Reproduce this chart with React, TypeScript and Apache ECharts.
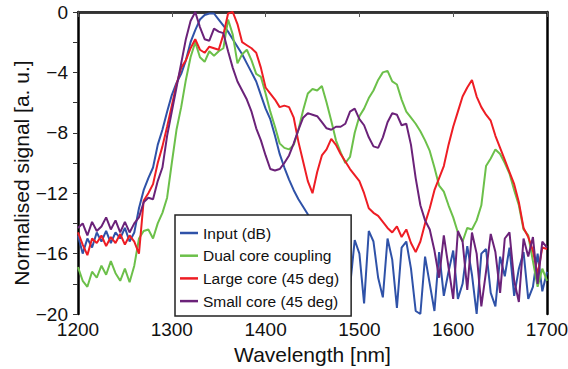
import React, { useEffect, useRef } from "react";
import * as echarts from "echarts";

const wavelengths = [
  1200, 1205, 1210, 1215, 1220, 1225, 1230, 1235, 1240, 1245,
  1250, 1255, 1260, 1265, 1270, 1275, 1280, 1285, 1290, 1295,
  1300, 1305, 1310, 1315, 1320, 1325, 1330, 1335, 1340, 1345,
  1350, 1355, 1360, 1365, 1370, 1375, 1380, 1385, 1390, 1395,
  1400, 1405, 1410, 1415, 1420, 1425, 1430, 1435, 1440, 1445,
  1450, 1455, 1460, 1465, 1470, 1475, 1480, 1485, 1490, 1495,
  1500, 1505, 1510, 1515, 1520, 1525, 1530, 1535, 1540, 1545,
  1550, 1555, 1560, 1565, 1570, 1575, 1580, 1585, 1590, 1595,
  1600, 1605, 1610, 1615, 1620, 1625, 1630, 1635, 1640, 1645,
  1650, 1655, 1660, 1665, 1670, 1675, 1680, 1685, 1690, 1695,
  1700,
];

const inputDb = [
  -14.8, -16.0, -15.0, -15.6, -14.6, -15.2, -14.5, -15.3, -14.6, -15.0,
  -14.3, -15.2, -14.6, -13.0, -11.8, -11.0, -10.3, -8.8, -7.8, -6.6,
  -5.5, -4.7, -4.1, -3.2, -2.0, -1.2, -0.5, -0.2, -0.1, -0.1,
  -0.5, -0.9, -1.3, -1.8, -2.3, -2.8, -3.4, -4.0, -4.6, -5.5,
  -6.4, -7.1, -8.2, -9.4, -10.3, -11.1, -11.8, -12.4, -12.9, -13.4,
  -14.0, -14.8, -15.6, -15.0, -16.2, -17.8, -15.4, -14.9, -18.2, -15.1,
  -16.0, -19.3, -14.5, -15.2, -17.6, -18.9, -15.0, -16.4, -19.6, -15.6,
  -15.2, -17.0, -19.8, -20.0, -16.2, -18.0, -19.8, -15.9, -18.8, -17.2,
  -15.8, -19.0, -18.0, -15.5, -17.4, -20.0, -16.0, -15.7, -18.6, -19.5,
  -16.2, -17.5, -15.6, -18.8, -17.0, -15.9, -19.0, -18.2, -16.0, -18.5,
  -17.2,
];

const dualCore = [
  -16.9, -17.8, -18.2, -17.2, -17.6, -16.8, -17.4, -16.5, -17.3, -17.8,
  -17.0, -17.9, -16.8, -15.0, -14.5, -14.4, -15.0, -14.0, -13.3, -12.3,
  -10.0, -7.8, -6.3, -4.5, -3.0, -2.0, -3.0, -3.3, -2.6, -2.9,
  -2.6, -2.4, -0.5, -1.5, -3.4, -2.8, -2.5, -3.2, -4.1, -4.3,
  -5.4, -6.6, -7.6, -8.7, -9.0, -9.1, -8.8, -7.8, -6.5, -5.4,
  -5.1, -5.2, -4.9, -6.0, -7.2, -8.5, -9.3, -10.0, -9.6, -8.0,
  -6.9, -6.4, -5.7, -5.2, -4.5, -4.0, -3.9, -4.6, -4.8, -5.8,
  -6.6, -7.0, -7.4, -7.9, -8.5, -9.2, -10.3, -11.5, -11.9, -12.8,
  -13.6, -14.6, -15.2, -14.3, -14.4, -13.8, -12.8, -10.2, -9.7, -9.1,
  -9.4, -10.0, -10.7, -11.8, -12.8, -14.4, -14.8, -16.5, -18.2, -17.0,
  -17.8,
];

const largeCore = [
  -14.6, -15.4, -16.1, -15.0, -15.3, -14.8, -15.5, -14.9, -15.3, -14.7,
  -15.4, -14.8, -15.2, -16.0, -12.5, -12.0, -11.4, -10.0, -8.9, -7.6,
  -6.2, -4.8, -3.7, -3.2, -2.4, -1.8, -2.5, -2.7, -2.3, -2.4,
  -2.5, -1.5, -0.1, 0.0, -0.8, -2.0, -2.2, -2.4, -2.7, -3.7,
  -5.0, -5.4, -5.8, -6.3, -6.2, -6.3, -7.0, -8.6, -9.9, -11.2,
  -12.0, -10.6, -9.5, -9.1, -8.4, -8.8, -9.4, -9.9, -10.4, -10.8,
  -11.2, -12.0, -13.0, -13.3, -13.5, -13.9, -14.3, -14.6, -14.2, -14.9,
  -14.4, -15.3, -15.9, -15.2, -14.0, -13.0, -11.8, -11.0, -10.2, -8.8,
  -7.6, -6.6, -5.6, -5.0, -4.5, -5.6, -6.3, -6.8, -7.2, -8.2,
  -9.0, -9.8, -10.6, -11.4, -12.6, -14.3, -14.9, -15.8, -17.4, -15.6,
  -15.7,
];

const smallCore = [
  -14.3, -14.0, -14.8, -13.9, -14.5, -14.2, -13.6, -14.4, -13.8, -14.6,
  -13.9, -14.6, -14.0, -13.6, -12.6, -12.3, -12.4, -11.2, -10.3, -8.2,
  -6.6, -5.0, -3.4, -1.8, -0.6, 0.0, -1.0, -1.8, -1.9, -1.1,
  -1.3, -1.4, -2.6, -3.7, -4.6, -5.2, -5.8, -6.6, -7.7, -8.5,
  -9.5, -10.4, -10.5, -10.4, -10.0, -9.5, -8.7, -7.8, -7.0, -6.7,
  -6.8, -6.9, -7.3, -7.7, -7.8, -7.6, -7.6, -7.4, -6.6, -6.4,
  -7.1, -7.5, -8.3, -8.9, -9.0, -8.3, -7.3, -6.7, -6.8, -7.5,
  -7.4, -8.8, -11.0, -12.8, -13.8, -14.4, -15.8, -17.6, -14.8, -16.9,
  -19.0, -14.5, -15.2, -18.4, -14.6, -16.0, -19.5, -17.2, -14.7, -15.9,
  -18.6, -15.0, -14.6, -17.8, -19.2, -15.0, -16.2, -14.9, -18.0, -15.2,
  -15.6,
];

const seriesNames = [
  "Input (dB)",
  "Dual core coupling",
  "Large core (45 deg)",
  "Small core (45 deg)",
];
const seriesColors = ["#2f52a8", "#6cc04a", "#ee1d24", "#6b2279"];
const seriesValues = [inputDb, dualCore, largeCore, smallCore];

const FONT = "'Liberation Sans', Arial, sans-serif";

export default function App() {
  const ref = useRef<HTMLDivElement>(null);

  useEffect(() => {
    if (!ref.current) return;
    const chart = echarts.init(ref.current, undefined, { renderer: "svg" });

    const series = seriesNames.map((name, s) => ({
      name,
      type: "line",
      data: wavelengths.map((w, i) => [w, seriesValues[s][i]]),
      showSymbol: false,
      symbol: "none",
      lineStyle: { color: seriesColors[s], width: 2 },
      itemStyle: { color: seriesColors[s] },
      z: 2 + s,
      clip: true,
    }));

    chart.setOption({
      animation: false,
      textStyle: { fontFamily: FONT },
      grid: {
        left: 78,
        right: 21,
        top: 12,
        bottom: 55,
        containLabel: false,
        outerBoundsMode: "none",
      },
      legend: {
        data: seriesNames.map((n) => ({ name: n, icon: "rect" })),
        orient: "vertical",
        left: 175,
        top: 215,
        itemWidth: 18,
        itemHeight: 2.5,
        itemGap: 6.7,
        padding: [10, 12, 7, 5],
        backgroundColor: "#ffffff",
        borderColor: "#222222",
        borderWidth: 1.5,
        borderRadius: 0,
        textStyle: { fontSize: 15.5, color: "#111", fontFamily: FONT, lineHeight: 16 },
        z: 10,
      },
      xAxis: [
        {
          type: "value",
          min: 1200,
          max: 1700,
          interval: 100,
          position: "bottom",
          name: "Wavelength [nm]",
          nameLocation: "middle",
          nameGap: 28,
          nameTextStyle: { fontSize: 21, color: "#111", fontFamily: FONT },
          axisLine: { show: true, lineStyle: { color: "#000", width: 2.5 } },
          axisTick: { show: false },
          axisLabel: {
            fontSize: 19,
            color: "#111",
            margin: 6,
            fontFamily: FONT,
            formatter: (v: number) => String(v),
          },
          splitLine: { show: false },
        },
        {
          type: "value",
          min: 1200,
          max: 1700,
          interval: 100,
          position: "top",
          axisLine: { show: true, lineStyle: { color: "#333", width: 2 } },
          axisTick: { show: true, inside: true, length: 5, lineStyle: { color: "#555", width: 1 } },
          axisLabel: { show: false },
          splitLine: { show: false },
        },
      ],
      yAxis: [
        {
          type: "value",
          min: -20,
          max: 0,
          interval: 2,
          position: "left",
          axisLine: { show: true, lineStyle: { color: "#000", width: 2.5 } },
          axisTick: { show: true, inside: false, length: 5, lineStyle: { color: "#333", width: 1 } },
          axisLabel: {
            fontSize: 19,
            color: "#111",
            margin: 10,
            fontFamily: FONT,
            formatter: (v: number) =>
              Math.round(v) % 4 === 0 ? (v === 0 ? "0" : "\u2212" + Math.abs(v)) : "",
          },
          splitLine: { show: false },
        },
        {
          type: "value",
          min: -20,
          max: 0,
          interval: 2,
          position: "right",
          axisLine: { show: true, lineStyle: { color: "#000", width: 2.5 } },
          axisTick: { show: false },
          axisLabel: { show: false },
          splitLine: { show: false },
        },
      ],
      graphic: [
        {
          type: "text",
          x: 21,
          y: 173,
          rotation: Math.PI / 2,
          style: {
            text: "Normalised signal [a. u.]",
            fontSize: 21,
            fontFamily: FONT,
            fill: "#111",
            textAlign: "center",
            textVerticalAlign: "middle",
          },
        },
      ],
      series,
    });

    return () => chart.dispose();
  }, []);

  return (
    <div
      ref={ref}
      style={{ position: "fixed", left: 0, top: 0, width: 568, height: 369, background: "#fff" }}
    />
  );
}
